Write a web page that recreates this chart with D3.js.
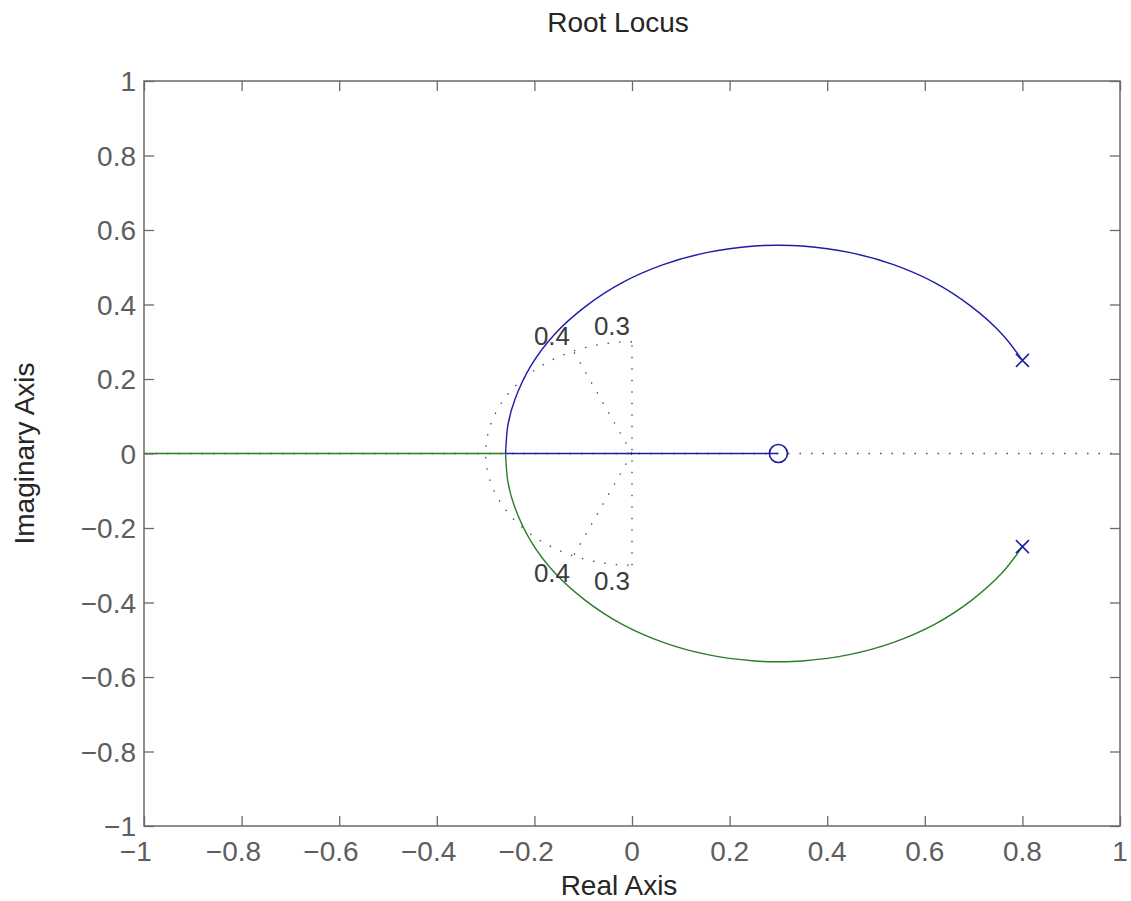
<!DOCTYPE html>
<html>
<head>
<meta charset="utf-8">
<script src="https://cdn.jsdelivr.net/npm/d3@7"></script>
<style>
  html, body { margin: 0; padding: 0; background: #ffffff; }
  svg { display: block; }
  text { font-family: "Liberation Sans", Arial, Helvetica, sans-serif; }
</style>
</head>
<body>
<svg id="chart" width="1131" height="901"></svg>
<script>
// ---------- data ----------
const xTicks = [-1, -0.8, -0.6, -0.4, -0.2, 0, 0.2, 0.4, 0.6, 0.8, 1];
const yTicks = [-1, -0.8, -0.6, -0.4, -0.2, 0, 0.2, 0.4, 0.6, 0.8, 1];

const poles = [[0.8, 0.25], [0.8, -0.25]];
const zerosList = [[0.3, 0]];

// upper complex branch (blue): pole -> break-in point
const branchUpper = [
  [0.800, 0.250], [0.758, 0.321], [0.695, 0.395], [0.621, 0.458], [0.536, 0.507],
  [0.445, 0.540], [0.349, 0.557], [0.300, 0.559], [0.251, 0.557], [0.155, 0.540],
  [0.064, 0.507], [-0.021, 0.458], [-0.095, 0.395], [-0.158, 0.321], [-0.207, 0.236],
  [-0.240, 0.145], [-0.254, 0.078], [-0.259, 0.000]
];
// lower complex branch (green): pole -> break-in point
const branchLower = [
  [0.800, -0.250], [0.758, -0.321], [0.695, -0.395], [0.621, -0.458], [0.536, -0.507],
  [0.445, -0.540], [0.349, -0.557], [0.300, -0.559], [0.251, -0.557], [0.155, -0.540],
  [0.064, -0.507], [-0.021, -0.458], [-0.095, -0.395], [-0.158, -0.321], [-0.207, -0.236],
  [-0.240, -0.145], [-0.254, -0.078], [-0.259, 0.000]
];
// real-axis segments after break-in
const realBlue = [[-0.259, 0], [0.3, 0]];
const realGreen = [[-0.259, 0], [-1, 0]];

// s-plane grid
const zetaValues = [0.4];
const wnValues = [0.3];
const gridLabels = [
  { text: "0.4", x: -0.164, y: 0.291 },
  { text: "0.3", x: -0.041, y: 0.318 },
  { text: "0.4", x: -0.164, y: -0.345 },
  { text: "0.3", x: -0.041, y: -0.366 }
];

// ---------- layout ----------
const svg = d3.select("#chart");
const X0 = 144, X1 = 1120, Y0 = 81, Y1 = 826;
const x = d3.scaleLinear().domain([-1, 1]).range([X0, X1]);
const y = d3.scaleLinear().domain([-1, 1]).range([Y1, Y0]);

const blue = "#1c1ca8";
const green = "#2b7d2b";
const axisColor = "#6a6a6a";
const tickTextColor = "#5e5e5e";
const labelColor = "#262626";
const gridColor = "#4a4a4a";

const line = d3.line().x(d => x(d[0])).y(d => y(d[1]));

const clip = svg.append("defs").append("clipPath").attr("id", "plotclip")
  .append("rect").attr("x", X0).attr("y", Y0).attr("width", X1 - X0).attr("height", Y1 - Y0);

const plot = svg.append("g").attr("clip-path", "url(#plotclip)");

// grid (dotted)
const gridStyle = sel => sel.attr("fill", "none").attr("stroke", gridColor)
  .attr("stroke-width", 1.3).attr("stroke-dasharray", "1.5,10");

// real axis dotted
plot.append("path").datum([[-1, 0], [1, 0]]).attr("d", line).call(gridStyle);
// imaginary axis segment up to wn circle
wnValues.forEach(wn => {
  plot.append("path").datum([[0, -wn], [0, wn]]).attr("d", line).call(gridStyle);
  const arc = d3.range(90, 270.1, 3).map(a => [wn * Math.cos(a * Math.PI / 180), wn * Math.sin(a * Math.PI / 180)]);
  plot.append("path").datum(arc).attr("d", line).call(gridStyle);
});
zetaValues.forEach(z => {
  const r = wnValues[0];
  const s = Math.sqrt(1 - z * z);
  plot.append("path").datum([[0, 0], [-z * r, s * r]]).attr("d", line).call(gridStyle);
  plot.append("path").datum([[0, 0], [-z * r, -s * r]]).attr("d", line).call(gridStyle);
});
svg.append("g").selectAll("text").data(gridLabels).join("text")
  .attr("x", d => x(d.x)).attr("y", d => y(d.y))
  .attr("text-anchor", "middle").attr("font-size", 26).attr("fill", "#3c3c3c")
  .text(d => d.text);

// locus branches
const locStyle = (sel, c) => sel.attr("fill", "none").attr("stroke", c).attr("stroke-width", 1.4);
plot.append("path").datum(realGreen).attr("d", line).call(locStyle, green);
plot.append("path").datum(realBlue).attr("d", line).call(locStyle, blue);
plot.append("path").datum(branchUpper).attr("d", line.curve(d3.curveCatmullRom)).call(locStyle, blue);
plot.append("path").datum(branchLower).attr("d", line.curve(d3.curveCatmullRom)).call(locStyle, green);

// poles (x) and zeros (o)
const ms = 6.5;
poles.forEach(p => {
  const cx = x(p[0]), cy = y(p[1]);
  svg.append("path")
    .attr("d", `M${cx - ms},${cy - ms}L${cx + ms},${cy + ms}M${cx - ms},${cy + ms}L${cx + ms},${cy - ms}`)
    .attr("stroke", blue).attr("stroke-width", 1.6).attr("fill", "none");
});
zerosList.forEach(p => {
  svg.append("circle").attr("cx", x(p[0])).attr("cy", y(p[1])).attr("r", 9)
    .attr("fill", "none").attr("stroke", blue).attr("stroke-width", 1.6);
});

// ---------- axes box and ticks ----------
svg.append("rect").attr("x", X0).attr("y", Y0).attr("width", X1 - X0).attr("height", Y1 - Y0)
  .attr("fill", "none").attr("stroke", axisColor).attr("stroke-width", 1.5);

const tl = 10;
const gx = svg.append("g").attr("transform", `translate(0,${Y1})`)
  .call(d3.axisBottom(x).tickValues(xTicks).tickSizeInner(-tl).tickSizeOuter(0).tickFormat(""));
const gxt = svg.append("g").attr("transform", `translate(0,${Y0})`)
  .call(d3.axisTop(x).tickValues(xTicks).tickSizeInner(-tl).tickSizeOuter(0).tickFormat(""));
const gy = svg.append("g").attr("transform", `translate(${X0},0)`)
  .call(d3.axisLeft(y).tickValues(yTicks).tickSizeInner(-tl).tickSizeOuter(0).tickFormat(""));
const gyr = svg.append("g").attr("transform", `translate(${X1},0)`)
  .call(d3.axisRight(y).tickValues(yTicks).tickSizeInner(-tl).tickSizeOuter(0).tickFormat(""));
[gx, gxt, gy, gyr].forEach(g => {
  g.select(".domain").remove();
  g.selectAll("line").attr("stroke", axisColor).attr("stroke-width", 1.3);
});

const fmt = v => String(Math.abs(v));

// x tick labels: number centered, minus hanging to the left
const xl = svg.append("g");
xTicks.forEach(v => {
  const t = xl.append("text").attr("x", x(v)).attr("y", 861)
    .attr("text-anchor", "middle").attr("font-size", 28).attr("fill", tickTextColor).text(fmt(v));
  if (v < 0) {
    const w = t.node().getComputedTextLength();
    xl.append("text").attr("x", x(v) - w / 2).attr("y", 861)
      .attr("text-anchor", "end").attr("font-size", 28).attr("fill", tickTextColor).text("\u2212");
  }
});

// y tick labels
svg.append("g").selectAll("text").data(yTicks).join("text")
  .attr("x", 136).attr("y", d => y(d) + 10)
  .attr("text-anchor", "end").attr("font-size", 28).attr("fill", tickTextColor)
  .text(d => (d < 0 ? "\u2212" : "") + fmt(d));

// title and axis labels
svg.append("text").attr("x", 618).attr("y", 32).attr("text-anchor", "middle")
  .attr("font-size", 28).attr("fill", labelColor).text("Root Locus");
svg.append("text").attr("x", 619).attr("y", 895).attr("text-anchor", "middle")
  .attr("font-size", 28).attr("fill", labelColor).text("Real Axis");
svg.append("text").attr("transform", `translate(34,${(Y0 + Y1) / 2}) rotate(-90)`)
  .attr("text-anchor", "middle").attr("font-size", 28).attr("fill", labelColor).text("Imaginary Axis");
</script>
</body>
</html>
